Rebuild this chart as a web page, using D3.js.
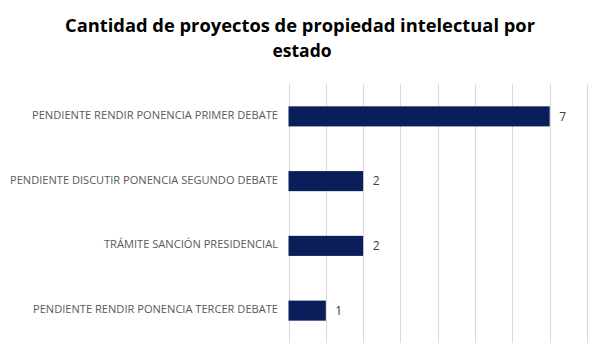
<!DOCTYPE html>
<html>
<head>
<meta charset="utf-8">
<script src="https://cdn.jsdelivr.net/npm/d3@7"></script>
<style>
html,body{margin:0;padding:0;background:#fff;}
svg{display:block;}
</style>
</head>
<body>
<svg id="chart" width="601" height="356"></svg>
<script>
const categories = [
  "PENDIENTE RENDIR PONENCIA PRIMER DEBATE",
  "PENDIENTE DISCUTIR PONENCIA SEGUNDO DEBATE",
  "TRÁMITE SANCIÓN PRESIDENCIAL",
  "PENDIENTE RENDIR PONENCIA TERCER DEBATE"
];
const values = [7, 2, 2, 1];
const xTicks = [0, 1, 2, 3, 4, 5, 6, 7, 8];
const titleLines = ["Cantidad de proyectos de propiedad intelectual por", "estado"];

const svg = d3.select("#chart");
const x = d3.scaleLinear().domain([0, 8]).range([288.5, 587]);
const y = d3.scaleBand().domain(categories).range([84, 343]).paddingInner(0.69).paddingOuter(0.345);

// gridlines
svg.append("g").selectAll("line").data(xTicks).join("line")
  .attr("x1", d => Math.round(x(d)) + 0.5).attr("x2", d => Math.round(x(d)) + 0.5)
  .attr("y1", 84).attr("y2", 343)
  .attr("stroke", "#d9d9d9").attr("stroke-width", 1);

// bars
svg.append("g").selectAll("rect").data(values).join("rect")
  .attr("x", x(0))
  .attr("y", (d, i) => y(categories[i]))
  .attr("width", d => x(d) - x(0))
  .attr("height", y.bandwidth())
  .attr("fill", "#0a1f5a");

// value labels
svg.append("g").selectAll("text").data(values).join("text")
  .attr("x", d => x(d) + 9.5)
  .attr("y", (d, i) => y(categories[i]) + y.bandwidth() / 2)
  .attr("dy", "0.35em")
  .attr("font-family", "'Open Sans', 'Liberation Sans', sans-serif")
  .attr("font-size", 12)
  .attr("fill", "#404040")
  .text(d => d);

// category labels
const labelWidths = [246, 268, 174, 245];
svg.append("g").selectAll("text").data(categories).join("text")
  .attr("x", 278)
  .attr("y", d => y(d) + y.bandwidth() / 2 - 1)
  .attr("dy", "0.35em")
  .attr("text-anchor", "end")
  .attr("font-family", "'Open Sans', 'Liberation Sans', sans-serif")
  .attr("font-size", 10)
  .attr("fill", "#595959")
  .attr("textLength", (d, i) => labelWidths[i])
  .attr("lengthAdjust", "spacingAndGlyphs")
  .text(d => d);

// title
const titleWidths = [470, 59];
const titleX = [300, 302];
const titleY = [32, 56.5];
svg.append("g").selectAll("text").data(titleLines).join("text")
  .attr("x", (d, i) => titleX[i])
  .attr("y", (d, i) => titleY[i])
  .attr("text-anchor", "middle")
  .attr("font-family", "'Open Sans', 'Liberation Sans', sans-serif")
  .attr("font-weight", "bold")
  .attr("font-size", 17.5)
  .attr("fill", "#000")
  .attr("textLength", (d, i) => titleWidths[i])
  .attr("lengthAdjust", "spacingAndGlyphs")
  .text(d => d);
</script>
</body>
</html>
